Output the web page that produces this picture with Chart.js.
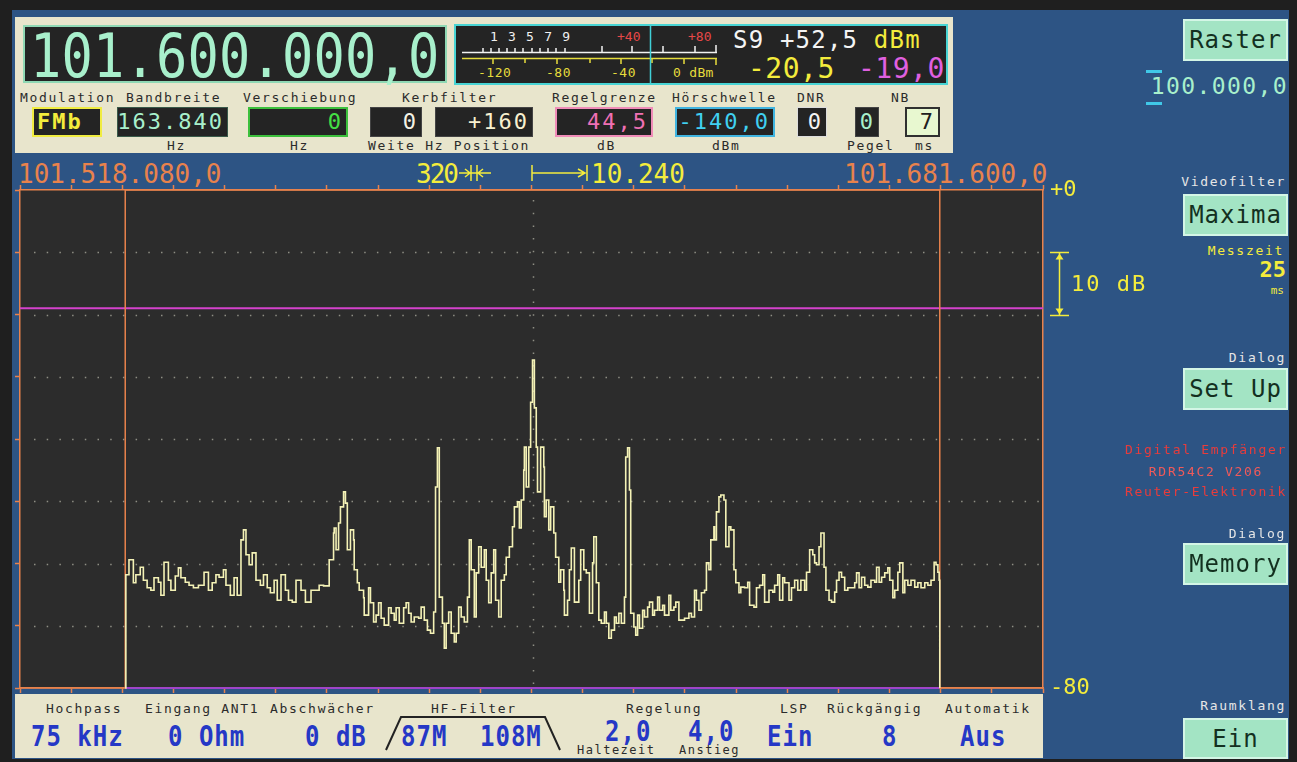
<!DOCTYPE html>
<html>
<head>
<meta charset="utf-8">
<script src="https://cdn.jsdelivr.net/npm/chart.js@4.4.1/dist/chart.umd.min.js"></script>
<style>
html, body { margin: 0; padding: 0; width: 1297px; height: 762px; overflow: hidden; background: #1f1f1f; font-family: 'DejaVu Sans Mono', monospace; }
.t { position: absolute; white-space: nowrap; line-height: 1; }
.s13 { font-size: 13px; letter-spacing: 1.7px; }
.dk { color: #2b2b2b; }
.panel { position: absolute; background: #e8e5cc; }
.box { position: absolute; box-sizing: border-box; top: 107px; height: 30px; background: #242424; display: flex; align-items: center; justify-content: flex-end; padding-right: 3px; font-size: 22px; letter-spacing: 2px; line-height: 1; }
.btn { position: absolute; left: 1183px; width: 105px; height: 42px; box-sizing: border-box; background: #a3e4c4; border: 2px solid #d4f6e6; display: flex; align-items: center; justify-content: center; font-size: 24px; letter-spacing: 1px; color: #13301f; }
.side { right: 11px; text-align: right; color: #e6e6e6; }
.red { left: 1110px; width: 192px; text-align: center; color: #e83c3c; }
.bv { font-size: 24px; font-weight: bold; color: #2538c6; letter-spacing: 1px; transform: scaleY(1.15); }
.hdr { font-size: 26px; }
</style>
</head>
<body>
<div style="position:absolute;left:12px;top:10px;width:1277px;height:749px;background:#2d5484"></div>

<!-- top panel -->
<div class="panel" style="left:15px;top:17px;width:938px;height:136px"></div>
<div style="position:absolute;left:23px;top:25px;width:424px;height:58px;box-sizing:border-box;background:#242424;border:2px solid #8fd8b4"></div>
<div class="t" style="left:30px;top:30px;font-size:52px;letter-spacing:0.2px;color:#a8f0cc;transform:scaleY(1.15)">101.600.000,0</div>
<div style="position:absolute;left:454px;top:24px;width:494px;height:61px;box-sizing:border-box;background:#242424;border:2px solid #48d4d4"></div>
<div class="t" style="left:490px;top:30px;font-size:13px;letter-spacing:1.2px;color:#f0f0f0">1 3 5 7 9</div>
<div class="t" style="left:617px;top:30px;font-size:13px;color:#e84848">+40</div>
<div class="t" style="left:688px;top:30px;font-size:13px;color:#e84848">+80</div>
<div class="t" style="left:478px;top:66px;font-size:13px;letter-spacing:0.5px;color:#e6dc3c">-120</div>
<div class="t" style="left:546px;top:66px;font-size:13px;letter-spacing:0.5px;color:#e6dc3c">-80</div>
<div class="t" style="left:611px;top:66px;font-size:13px;letter-spacing:0.5px;color:#e6dc3c">-40</div>
<div class="t" style="left:673px;top:66px;font-size:13px;letter-spacing:0.3px;color:#e6dc3c">0 dBm</div>
<div class="t" style="left:733px;top:28px;font-size:24px;letter-spacing:1.2px;color:#f4f4f4">S9 +52,5 <span style="color:#f4ec3c">dBm</span></div>
<div class="t" style="left:748px;top:55px;font-size:28px;letter-spacing:0.5px;color:#f4ec3c">-20,5</div>
<div class="t" style="left:858px;top:55px;font-size:28px;letter-spacing:0.5px;color:#e060e0">-19,0</div>

<div class="t s13 dk" style="left:20px;top:91px">Modulation</div>
<div class="t s13 dk" style="left:126px;top:91px">Bandbreite</div>
<div class="t s13 dk" style="left:243px;top:91px">Verschiebung</div>
<div class="t s13 dk" style="left:402px;top:91px">Kerbfilter</div>
<div class="t s13 dk" style="left:552px;top:91px">Regelgrenze</div>
<div class="t s13 dk" style="left:672px;top:91px">Hörschwelle</div>
<div class="t s13 dk" style="left:797px;top:91px">DNR</div>
<div class="t s13 dk" style="left:891px;top:91px">NB</div>

<div class="box" style="left:32px;width:70px;border:2px solid #f0ec40;justify-content:flex-start;padding-left:3px;color:#f4ec3c;font-weight:bold">FMb</div>
<div class="box" style="left:117px;width:111px;border:1px solid #3a5a4a;color:#a8f0cc">163.840</div>
<div class="box" style="left:248px;width:100px;border:2px solid #3cc03c;color:#44e044">0</div>
<div class="box" style="left:370px;width:52px;border:1px solid #444;color:#f4f2e4">0</div>
<div class="box" style="left:435px;width:98px;border:1px solid #444;color:#f8f0d0">+160</div>
<div class="box" style="left:555px;width:98px;border:2px solid #f08cb8;color:#f070b4">44,5</div>
<div class="box" style="left:675px;width:100px;border:2px solid #40b4e0;color:#40d0f0">-140,0</div>
<div class="box" style="left:797px;width:30px;border:1px solid #ddd;color:#f4f4f4">0</div>
<div class="box" style="left:855px;width:24px;border:1px solid #444;color:#a8f0cc">0</div>
<div class="box" style="left:905px;width:35px;border:2px solid #303030;background:#e8f8d0;color:#202020">7</div>

<div class="t s13 dk" style="left:167px;top:139px">Hz</div>
<div class="t s13 dk" style="left:290px;top:139px">Hz</div>
<div class="t s13 dk" style="left:368px;top:139px">Weite Hz Position</div>
<div class="t s13 dk" style="left:597px;top:139px">dB</div>
<div class="t s13 dk" style="left:712px;top:139px">dBm</div>
<div class="t s13 dk" style="left:847px;top:139px">Pegel</div>
<div class="t s13 dk" style="left:915px;top:139px">ms</div>

<!-- frequency header -->
<div class="t hdr" style="left:18px;top:161px;color:#e8824c">101.518.080,0</div>
<div class="t hdr" style="left:416px;top:161px;letter-spacing:-2px;color:#f4ec3c">320</div>
<div class="t hdr" style="left:591px;top:161px;color:#f4ec3c">10.240</div>
<div class="t hdr" style="left:844px;top:161px;color:#e8824c">101.681.600,0</div>

<!-- bottom panel -->
<div class="panel" style="left:15px;top:694px;width:1028px;height:64px"></div>
<div class="t s13 dk" style="left:46px;top:702px">Hochpass</div>
<div class="t s13 dk" style="left:145px;top:702px">Eingang ANT1</div>
<div class="t s13 dk" style="left:270px;top:702px">Abschwächer</div>
<div class="t s13 dk" style="left:431px;top:702px">HF-Filter</div>
<div class="t s13 dk" style="left:626px;top:702px">Regelung</div>
<div class="t s13 dk" style="left:780px;top:702px">LSP</div>
<div class="t s13 dk" style="left:827px;top:702px">Rückgängig</div>
<div class="t s13 dk" style="left:945px;top:702px">Automatik</div>
<div class="t bv" style="left:31px;top:725px">75 kHz</div>
<div class="t bv" style="left:168px;top:725px">0 Ohm</div>
<div class="t bv" style="left:305px;top:725px">0 dB</div>
<div class="t bv" style="left:401px;top:725px">87M</div>
<div class="t bv" style="left:480px;top:725px">108M</div>
<div class="t bv" style="left:605px;top:720px">2,0</div>
<div class="t bv" style="left:688px;top:720px">4,0</div>
<div class="t bv" style="left:767px;top:725px">Ein</div>
<div class="t bv" style="left:882px;top:725px">8</div>
<div class="t bv" style="left:960px;top:725px">Aus</div>
<div class="t dk" style="left:577px;top:744px;font-size:12px;letter-spacing:1.5px">Haltezeit</div>
<div class="t dk" style="left:679px;top:744px;font-size:12px;letter-spacing:1.5px">Anstieg</div>

<!-- chart -->
<canvas id="spectrumChart" width="1140" height="525" style="position:absolute;left:15px;top:175px"></canvas>

<!-- sidebar -->
<div class="btn" style="top:19px">Raster</div>
<div class="t" style="right:9px;top:75px;font-size:23px;letter-spacing:1.4px;color:#a8f0cc">100.000,0</div>
<div class="t s13 side" style="top:175px">Videofilter</div>
<div class="btn" style="top:194px">Maxima</div>
<div class="t s13 side" style="top:244px;right:13px;color:#f4ec3c">Messzeit</div>
<div class="t side" style="top:259px;right:11px;font-size:22px;font-weight:bold;color:#f4ec3c">25</div>
<div class="t side" style="top:285px;right:13px;font-size:11px;color:#f4ec3c">ms</div>
<div class="t s13 side" style="top:351px">Dialog</div>
<div class="btn" style="top:368px">Set Up</div>
<div class="t s13 red" style="top:443px">Digital Empfänger</div>
<div class="t s13 red" style="top:465px;color:#f05a5a">RDR54C2 V206</div>
<div class="t s13 red" style="top:485px">Reuter-Elektronik</div>
<div class="t s13 side" style="top:527px">Dialog</div>
<div class="btn" style="top:543px">Memory</div>
<div class="t s13 side" style="top:699px">Raumklang</div>
<div class="btn" style="top:718px;height:41px">Ein</div>

<svg width="1297" height="762" style="position:absolute;left:0;top:0;pointer-events:none">
  <g stroke="#f2f2f2" stroke-width="1.5" fill="none">
    <path d="M462 52.5H717"/>
    <path d="M483 48V52M491 48V52M499 48V52M507 48V52M515 48V52M523 48V52M532 48V52M540 48V52M548 48V52M556 48V52M565 48V52M602 46V52M632 46V52M663 46V52M695 46V52M716 45V52"/>
  </g>
  <g stroke="#e6dc3c" stroke-width="1.5" fill="none">
    <path d="M462 58.5H717"/>
    <path d="M493 58V64M525 58V63M557 58V64M590 58V63M621 58V64M652 58V63M684 58V64M716 58V65"/>
  </g>
  <path d="M650.5 26V84" stroke="#40d0d8" stroke-width="1.5"/>
  <g stroke="#f4ec3c" stroke-width="1.5" fill="none">
    <path d="M459 173H491M471 165V181M477 165V181M465 169L470 173L465 177M483 169L478 173L483 177"/>
    <path d="M532 165V181M532 173H585M587 165V181M578 169L585 173L578 177"/>
  </g>
  <polyline points="386,750 401,717 545,717 560,750" stroke="#222" stroke-width="2" fill="none"/>
  <rect x="1146" y="70" width="16" height="3" fill="#40c8e8"/>
  <rect x="1146" y="102" width="16" height="3" fill="#40c8e8"/>
</svg>

<script>
// spectrum trace (offset from 101.600 MHz in kHz, level in dB)
const freqKHz = [
  -65.1, -65.0, -64.5, -63.8, -63.4, -62.7, -62.2, -61.6, -61.0, -60.5,
  -59.8, -59.4, -58.9, -58.2, -57.8, -57.1, -56.6, -56.2, -55.5, -54.9,
  -54.2, -53.4, -53.0, -52.5, -51.8, -51.2, -50.6, -50.1, -49.4, -49.0,
  -48.3, -47.7, -47.2, -46.6, -46.2, -45.8, -45.3, -44.8, -44.2, -43.5,
  -43.0, -42.4, -41.9, -41.3, -40.8, -40.2, -39.5, -39.0, -38.4, -37.8,
  -37.0, -36.3, -35.4, -34.1, -33.4, -32.5,
  -31.8, -31.7, -31.4, -31.0, -30.7, -30.2, -29.9, -29.6, -29.1, -28.6,
  -28.5, -28.0, -27.7, -27.0, -26.9, -26.2, -25.9, -25.4, -25.0, -24.6,
  -24.2, -23.7, -23.0, -22.6, -22.1, -21.8, -21.3, -20.6, -20.2, -19.8,
  -19.4, -18.9, -18.2, -17.8, -17.3, -16.8, -16.3, -15.8, -15.5, -15.2,
  -14.9, -14.4, -14.1, -13.8, -13.4, -13.0, -12.5, -12.2, -11.8, -11.4,
  -10.9, -10.4, -10.1, -9.8, -9.3, -9.0, -8.6, -8.2, -7.7, -7.4,
  -7.0, -6.6, -6.2, -5.9, -5.4, -5.0, -4.5, -4.2, -3.7, -3.2,
  -2.9, -2.4, -2.1, -1.8, -1.4, -1.3, -1.0, -0.6, -0.3, 0.0,
  0.3, 0.6, 0.8, 1.3, 1.8, 1.9, 2.2, 2.6, 2.9, 3.4,
  3.7, 4.2, 4.5, 5.0, 5.1, 5.6, 5.9, 6.2, 6.7, 7.4,
  7.7, 8.2, 8.6, 9.1, 9.6, 9.8, 10.2, 10.6, 11.0, 11.5,
  11.8, 12.2, 12.6, 13.1, 13.4, 13.8, 14.2, 14.7, 14.9, 15.2,
  15.5, 15.7, 16.2, 16.5, 16.8, 17.1, 17.6, 17.9, 18.4, 18.7,
  19.2, 19.5, 20.0, 20.3, 20.8, 21.1, 21.8, 22.1, 22.6, 22.9,
  23.4, 24.3, 25.0, 25.4, 25.9, 26.2, 26.6, 27.0, 27.5, 27.8,
  28.2, 28.5, 29.0, 29.1, 29.4, 29.8, 30.1, 30.6, 30.9, 31.4,
  31.7, 32.2, 32.5, 33.0, 33.3, 33.9, 34.4, 34.7, 35.4, 35.8,
  36.3, 36.8, 37.1, 37.8, 38.4, 38.7, 39.2, 39.5, 40.0, 40.3,
  41.0, 41.4, 41.9, 42.4, 42.9, 43.5, 43.8, 44.3, 44.8, 45.1,
  45.4, 45.8, 46.1, 46.6, 46.9, 47.4, 47.8, 48.3, 48.6, 49.0,
  49.4, 49.9, 50.4, 51.5, 51.8, 52.2, 52.6, 53.1, 53.6, 54.1,
  54.7, 55.0, 55.4, 55.8, 56.3, 56.8, 57.1, 57.6, 57.9, 58.4,
  58.7, 59.2, 59.5, 60.0, 60.5, 61.1, 61.6, 62.1, 62.7, 63.2,
  63.7, 64.2, 64.5, 64.8, 65.0, 65.1
];
const levelDb = [
  -80, -61.8, -59.4, -63.1, -61.8, -60.6, -62.7, -63.9, -64.3, -62.3,
  -63.0, -65.1, -59.8, -62.7, -64.3, -62.0, -60.7, -62.3, -63.0, -63.5,
  -63.9, -63.5, -63.5, -61.4, -64.3, -63.1, -61.8, -62.2, -61.0, -63.5,
  -65.1, -62.3, -65.1, -56.2, -54.6, -58.6, -60.2, -58.3, -62.7, -63.5,
  -61.8, -63.9, -64.7, -62.7, -65.9, -61.8, -64.3, -65.9, -66.2, -62.7,
  -64.3, -66.2, -64.3, -63.5, -63.6, -59.4,
  -55.1, -54.3, -57.8, -53.5, -50.9, -48.5, -50.3, -57.8, -54.6, -56.2,
  -61.0, -63.1, -64.3, -65.5, -68.3, -63.9, -66.3, -69.4, -68.3, -66.3,
  -68.8, -69.9, -67.1, -68.0, -69.1, -67.1, -69.6, -67.1, -66.3, -68.0,
  -69.4, -68.6, -68.8, -67.0, -69.1, -70.7, -71.2, -67.8, -47.7, -41.4,
  -65.4, -69.6, -73.6, -69.6, -67.8, -71.2, -72.6, -71.2, -67.0, -68.6,
  -69.4, -65.4, -56.2, -61.0, -68.6, -61.5, -57.3, -60.6, -57.8, -62.7,
  -66.3, -61.5, -57.8, -65.9, -68.6, -62.7, -61.8, -59.0, -57.3, -54.1,
  -50.9, -50.1, -54.3, -49.8, -45.0, -41.3, -47.7, -41.3, -34.1, -27.3,
  -35.0, -41.3, -48.5, -41.3, -44.5, -52.5, -49.8, -54.6, -50.9, -55.1,
  -59.0, -63.0, -61.0, -64.3, -68.3, -65.9, -61.0, -57.5, -66.2, -62.7,
  -57.8, -61.0, -61.5, -68.0, -59.9, -55.7, -63.1, -69.1, -69.6, -67.8,
  -69.6, -72.0, -70.7, -68.6, -69.6, -68.0, -69.6, -65.4, -42.9, -41.4,
  -48.2, -68.0, -70.2, -71.5, -68.3, -70.4, -67.5, -68.6, -67.0, -66.2,
  -68.3, -67.5, -65.4, -67.5, -66.7, -68.3, -65.1, -67.5, -67.0, -66.2,
  -69.1, -68.8, -68.0, -68.6, -64.3, -65.9, -67.5, -64.7, -64.3, -59.9,
  -61.0, -56.2, -54.1, -56.2, -51.7, -49.3, -49.0, -49.8, -57.3, -54.1,
  -54.6, -61.0, -63.1, -64.7, -63.8, -63.9, -63.0, -66.7, -67.0, -63.9,
  -63.5, -61.8, -66.2, -64.3, -64.6, -63.5, -61.8, -65.9, -62.3, -63.1,
  -65.9, -63.9, -62.7, -64.3, -62.7, -64.3, -61.4, -57.8, -58.6, -59.9,
  -60.2, -57.3, -55.1, -60.6, -64.3, -65.9, -66.2, -64.6, -62.7, -61.4,
  -62.2, -64.3, -63.9, -63.1, -61.5, -63.9, -62.2, -63.5, -63.8, -62.7,
  -63.0, -60.6, -63.0, -62.2, -61.5, -60.7, -62.7, -65.5, -64.3, -61.4,
  -59.9, -64.7, -62.7, -63.5, -62.7, -63.8, -63.1, -63.9, -63.1, -63.5,
  -62.7, -59.8, -60.2, -61.4, -62.7, -80
];

const spanKHz = [-81.92, 81.6];
const filterEdgeKHz = [-65.1, 65.1];
const levelRangeDb = [-80, 0];
const regelLimitDb = -19.0;
const gridDb = [-10, -20, -30, -40, -50, -60, -70];
const markerDb = [-10, -20];
const xTickKHz = [-81.92, -73.74, -65.57, -57.39, -49.22, -41.04, -32.86, -24.69, -16.51, -8.34,
  -0.16, 8.02, 16.19, 24.37, 32.54, 40.72, 48.90, 57.07, 65.25, 73.42, 81.60];

const ORANGE = '#e8824c';
const YELLOW = '#f4ec3c';

Chart.defaults.font.family = "'DejaVu Sans Mono', monospace";

// dark plot background, dotted grid and the 10 dB marker at the right
const screenPlugin = {
  id: 'screen',
  beforeDraw(chart) {
    const {ctx, chartArea: a} = chart;
    ctx.save();
    ctx.fillStyle = '#2c2c2c';
    ctx.fillRect(a.left, a.top, a.right - a.left, a.bottom - a.top);
    ctx.restore();
  },
  beforeDatasetsDraw(chart) {
    const {ctx, chartArea: a, scales: {x, y}} = chart;
    ctx.save();
    ctx.strokeStyle = '#8e8e84';
    ctx.lineWidth = 1.5;
    ctx.setLineDash([1.5, 11.2]);
    gridDb.forEach(v => {
      const py = Math.round(y.getPixelForValue(v)) + 0.5;
      ctx.beginPath();
      ctx.moveTo(a.left + 14, py);
      ctx.lineTo(a.right, py);
      ctx.stroke();
    });
    const px = Math.round(x.getPixelForValue(0)) + 0.5;
    ctx.beginPath();
    ctx.moveTo(px, a.top + 10);
    ctx.lineTo(px, a.bottom);
    ctx.stroke();
    ctx.restore();
  },
  afterDraw(chart) {
    const {ctx, chartArea: a, scales: {y}} = chart;
    const y1 = Math.round(y.getPixelForValue(markerDb[0])) + 0.5;
    const y2 = Math.round(y.getPixelForValue(markerDb[1])) + 0.5;
    const mx = a.right + 16.5;
    ctx.save();
    ctx.strokeStyle = YELLOW;
    ctx.fillStyle = YELLOW;
    ctx.lineWidth = 1.5;
    ctx.beginPath();
    ctx.moveTo(a.right + 7, y1); ctx.lineTo(a.right + 26, y1);
    ctx.moveTo(a.right + 7, y2); ctx.lineTo(a.right + 26, y2);
    ctx.moveTo(mx, y1); ctx.lineTo(mx, y2);
    ctx.stroke();
    ctx.beginPath();
    ctx.moveTo(mx, y1 + 1); ctx.lineTo(mx - 4, y1 + 7); ctx.lineTo(mx + 4, y1 + 7); ctx.closePath();
    ctx.moveTo(mx, y2 - 1); ctx.lineTo(mx - 4, y2 - 7); ctx.lineTo(mx + 4, y2 - 7); ctx.closePath();
    ctx.fill();
    ctx.font = "22px 'DejaVu Sans Mono'";
    ctx.letterSpacing = '2px';
    ctx.textBaseline = 'middle';
    ctx.fillText('10 dB', a.right + 28, (y1 + y2) / 2 + 1);
    ctx.restore();
  }
};

const traceData = freqKHz.map((f, i) => ({x: f, y: levelDb[i]}));
const filterData = [
  {x: spanKHz[0], y: levelRangeDb[0]}, {x: filterEdgeKHz[0], y: levelRangeDb[0]},
  {x: filterEdgeKHz[0], y: levelRangeDb[1]}, {x: filterEdgeKHz[1], y: levelRangeDb[1]},
  {x: filterEdgeKHz[1], y: levelRangeDb[0]}, {x: spanKHz[1], y: levelRangeDb[0]}
];

const freqAxis = (position, boxHeight) => ({
  type: 'linear',
  position: position,
  min: spanKHz[0],
  max: spanKHz[1],
  afterBuildTicks: scale => { scale.ticks = xTickKHz.map(v => ({value: v})); },
  afterFit: scale => { scale.height = boxHeight; },
  ticks: {display: false},
  grid: {drawOnChartArea: false, tickLength: 5, tickColor: ORANGE, tickWidth: 1.5},
  border: {color: ORANGE, width: 1.5}
});

const spectrumConfig = {
  type: 'line',
  data: {
    datasets: [
      {
        label: 'Spektrum',
        data: traceData,
        stepped: true,
        borderColor: '#f4f2b6',
        borderWidth: 1.6,
        pointRadius: 0,
        clip: 3
      },
      {
        label: 'Filter',
        data: filterData,
        borderColor: ORANGE,
        borderWidth: 1.5,
        pointRadius: 0,
        clip: 3
      },
      {
        label: 'Regelgrenze',
        data: [{x: spanKHz[0], y: regelLimitDb}, {x: spanKHz[1], y: regelLimitDb}],
        borderColor: '#d442cc',
        borderWidth: 2,
        pointRadius: 0
      },
      {
        label: 'Boden',
        data: [{x: filterEdgeKHz[0], y: levelRangeDb[0]}, {x: filterEdgeKHz[1], y: levelRangeDb[0]}],
        borderColor: '#a044c8',
        borderWidth: 2,
        pointRadius: 0,
        clip: 3
      }
    ]
  },
  options: {
    responsive: false,
    animation: false,
    devicePixelRatio: 1,
    events: [],
    layout: {padding: 0},
    plugins: {legend: {display: false}, tooltip: {enabled: false}},
    scales: {
      x: freqAxis('bottom', 12),
      xTop: freqAxis('top', 15),
      y: {
        position: 'left',
        min: levelRangeDb[0],
        max: levelRangeDb[1],
        afterFit: scale => { scale.width = 5; },
        ticks: {display: false, stepSize: 10},
        grid: {drawOnChartArea: false, tickLength: 5, tickColor: ORANGE, tickWidth: 1.5},
        border: {color: ORANGE, width: 1.5}
      },
      yRight: {
        position: 'right',
        min: levelRangeDb[0],
        max: levelRangeDb[1],
        afterBuildTicks: scale => { scale.ticks = levelRangeDb.map(v => ({value: v})); },
        afterFit: scale => { scale.width = 112; scale.paddingTop = 0; scale.paddingBottom = 0; },
        ticks: {
          color: YELLOW,
          padding: 7,
          font: {size: 22},
          callback: v => (v === 0 ? '+0' : String(v))
        },
        grid: {display: false, drawTicks: false},
        border: {display: true, color: ORANGE, width: 1.5}
      }
    }
  },
  plugins: [screenPlugin]
};

const spectrumChart = new Chart(
  document.getElementById('spectrumChart'),
  spectrumConfig
);
</script>
</body>
</html>
